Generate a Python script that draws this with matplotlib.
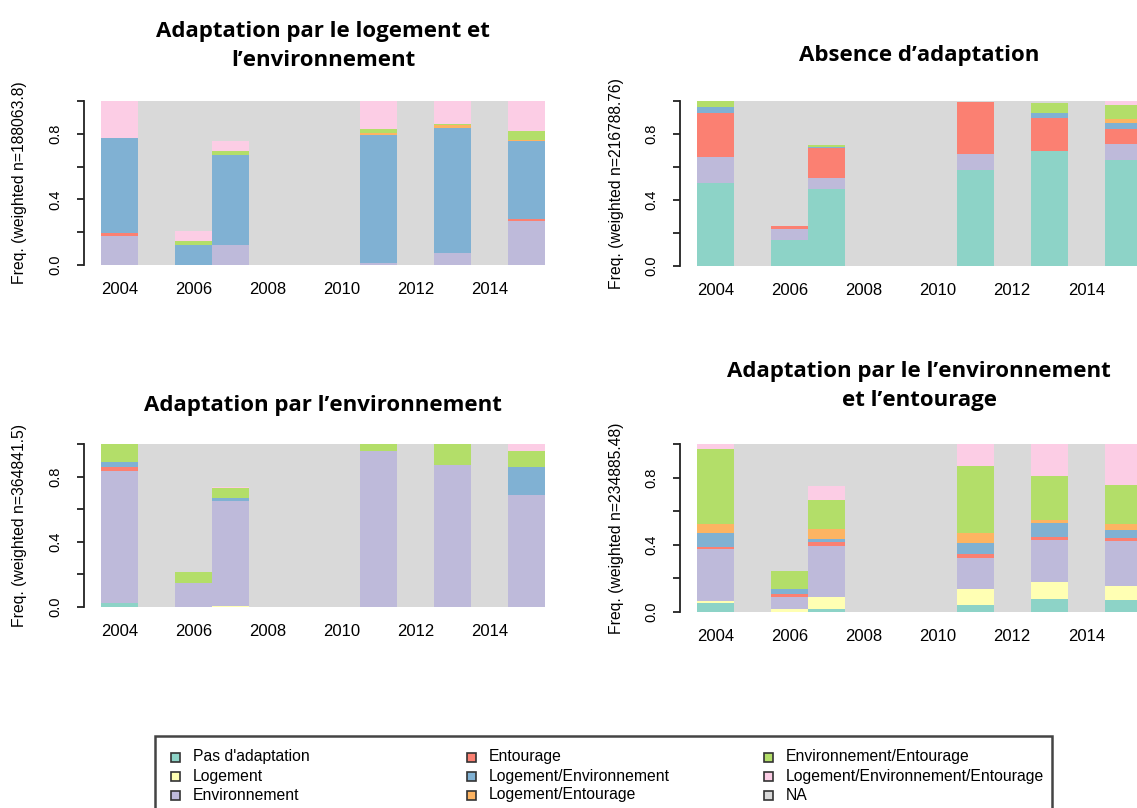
import numpy as np
import matplotlib
matplotlib.use("Agg")
import matplotlib.pyplot as plt
from matplotlib.patches import Rectangle

W, H = 1137, 808

# ---------------- data ----------------
all_years = list(range(2004, 2016))
obs_years = [2004, 2006, 2007, 2011, 2013, 2015]
xtick_years = [2004, 2006, 2008, 2010, 2012, 2014]

states = ["Pas d'adaptation", "Logement", "Environnement", "Entourage",
          "Logement/Environnement", "Logement/Entourage",
          "Environnement/Entourage", "Logement/Environnement/Entourage"]
state_colors = ["#8DD3C7", "#FFFFB3", "#BEBADA", "#FB8072",
                "#80B1D3", "#FDB462", "#B3DE69", "#FCCDE5"]
na_label = "NA"
na_color = "#D9D9D9"

# rows follow `states`, columns follow `obs_years`
freq_logement_env = [
    [0, 0, 0, 0, 0, 0],
    [0, 0, 0, 0, 0, 0],
    [0.175, 0, 0.12, 0.01, 0.075, 0.271],
    [0.02, 0, 0, 0, 0, 0.01],
    [0.577, 0.12, 0.549, 0.783, 0.763, 0.474],
    [0, 0, 0, 0.01, 0.015, 0.008],
    [0, 0.026, 0.026, 0.024, 0.008, 0.057],
    [0.228, 0.063, 0.063, 0.172, 0.139, 0.18],
]
freq_absence = [
    [0.506, 0.156, 0.464, 0.579, 0.694, 0.642],
    [0, 0, 0, 0, 0, 0],
    [0.152, 0.067, 0.069, 0.099, 0, 0.097],
    [0.271, 0.018, 0.18, 0.314, 0.206, 0.089],
    [0.032, 0, 0.01, 0, 0.028, 0.036],
    [0, 0, 0, 0, 0, 0.026],
    [0.038, 0, 0.01, 0, 0.061, 0.085],
    [0, 0, 0, 0, 0, 0.024],
]
freq_environnement = [
    [0.023, 0, 0, 0, 0, 0],
    [0, 0, 0.008, 0, 0, 0],
    [0.81, 0.15, 0.641, 0.955, 0.872, 0.689],
    [0.023, 0, 0, 0, 0, 0],
    [0.035, 0, 0.021, 0, 0, 0.167],
    [0, 0, 0, 0, 0, 0],
    [0.109, 0.064, 0.062, 0.045, 0.128, 0.101],
    [0, 0, 0.006, 0, 0, 0.043],
]
freq_env_entourage = [
    [0.054, 0, 0.02, 0.044, 0.08, 0.072],
    [0.01, 0.02, 0.072, 0.09, 0.1, 0.082],
    [0.309, 0.07, 0.299, 0.186, 0.246, 0.271],
    [0.012, 0.02, 0.026, 0.028, 0.018, 0.018],
    [0.086, 0.024, 0.018, 0.062, 0.088, 0.046],
    [0.052, 0, 0.06, 0.062, 0.018, 0.032],
    [0.445, 0.108, 0.17, 0.397, 0.259, 0.232],
    [0.032, 0, 0.084, 0.132, 0.192, 0.248],
]

titles = ["Adaptation par le logement et\nl\u2019environnement",
          "Absence d\u2019adaptation",
          "Adaptation par l\u2019environnement",
          "Adaptation par le l\u2019environnement\net l\u2019entourage"]
ylabels = ["Freq. (weighted n=188063.8)", "Freq. (weighted n=216788.76)",
           "Freq. (weighted n=364841.5)", "Freq. (weighted n=234885.48)"]
panel_data = [freq_logement_env, freq_absence, freq_environnement, freq_env_entourage]

# ---------------- layout (pixels) ----------------
# (left, top, right, bottom)
boxes = [(101, 101, 545, 265), (697, 101, 1142, 266),
         (101, 444, 545, 607), (697, 444, 1142, 612)]
title_y = [46, 56, 406, 386]

fig = plt.figure(figsize=(W / 100, H / 100), dpi=100)
fig.patch.set_facecolor("white")

def fx(px):
    return px / W

def fy(py):
    return 1 - py / H

for k in range(4):
    l, t, r, b = boxes[k]
    ax = fig.add_axes([fx(l), fy(b), (r - l) / W, (b - t) / H])
    ax.set_facecolor(na_color)
    data = np.array(panel_data[k], dtype=float)
    full = np.zeros((len(states), len(all_years)))
    for j, yr in enumerate(obs_years):
        full[:, all_years.index(yr)] = data[:, j]
    bottom = np.zeros(len(all_years))
    for i in range(len(states)):
        ax.bar(all_years, full[i], width=1.0, bottom=bottom,
               color=state_colors[i], linewidth=0)
        bottom += full[i]
    na = np.clip(1 - bottom, 0, None)
    ax.bar(all_years, na, width=1.0, bottom=bottom, color=na_color, linewidth=0)

    ax.set_xlim(2003.5, 2015.5)
    ax.set_ylim(0, 1)
    for s in ["top", "right", "bottom"]:
        ax.spines[s].set_visible(False)
    ax.spines["left"].set_position(("outward", 12.5))
    ax.spines["left"].set_bounds(0, 1)
    ax.spines["left"].set_linewidth(1.3)
    ax.spines["left"].set_color("#222222")

    ax.set_xticks(xtick_years)
    ax.set_xticklabels([str(y) for y in xtick_years], fontsize=12,
                       family="Liberation Sans")
    ax.tick_params(axis="x", length=0, pad=12)

    ax.set_yticks([0, 0.4, 0.8])
    ax.set_yticklabels(["0.0", "0.4", "0.8"], rotation=90, va="center",
                       fontsize=10.5, family="Liberation Sans")
    ax.set_yticks([0.2, 0.6, 1.0], minor=True)
    ax.tick_params(axis="y", which="both", length=5, width=1.3,
                   color="#222222", pad=10)

    cx = (l + r) / 2
    if k in (1, 3):
        cx = (l + 1137) / 2 + 2
    fig.text(fx(cx), fy(title_y[k]), titles[k], ha="center", va="center",
             fontsize=16, fontweight="bold", family="Open Sans",
             linespacing=1.5)
    fig.text(fx(l - 81), fy((t + b) / 2), ylabels[k], rotation=90,
             ha="center", va="center", fontsize=11.3, family="Liberation Sans")

# ---------------- legend (drawn in figure coords) ----------------
fig.add_artist(Rectangle((fx(155), fy(1000)), (1052 - 155) / W, (1000 - 736) / H,
                         transform=fig.transFigure, facecolor="white",
                         edgecolor="#444444", linewidth=1.8))
leg_labels = states + [na_label]
leg_colors = state_colors + [na_color]
col_x = [175, 471, 768]
row_y = [757, 776, 795]
for idx, (lab, col) in enumerate(zip(leg_labels, leg_colors)):
    c, rw = idx // 3, idx % 3
    mx, my = col_x[c], row_y[rw]
    sz = 9
    fig.add_artist(Rectangle((fx(mx - sz / 2), fy(my + sz / 2)), sz / W, sz / H,
                             transform=fig.transFigure, facecolor=col,
                             edgecolor="#333333", linewidth=1.2))
    fig.text(fx(mx + 18), fy(my), lab, ha="left", va="center",
             fontsize=11.3, family="Liberation Sans")

fig.savefig("out.png", dpi=100)
